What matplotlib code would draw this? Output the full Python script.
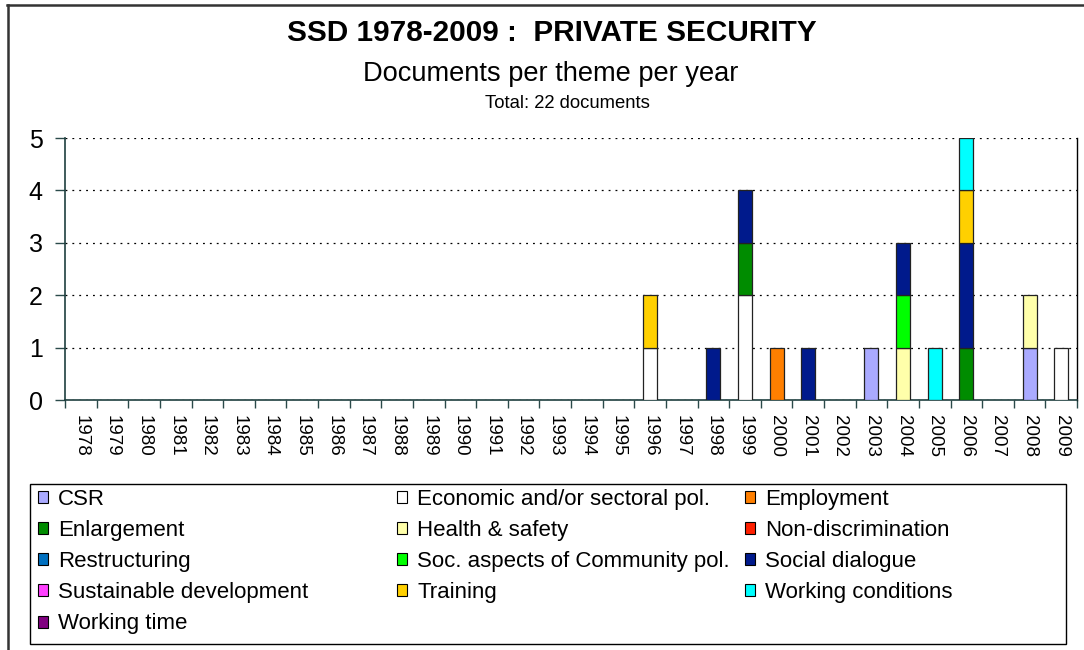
import numpy as np
import matplotlib
matplotlib.use("Agg")
import matplotlib.pyplot as plt
from matplotlib.patches import Patch, Rectangle
from matplotlib.lines import Line2D

plt.rcParams["font.family"] = ["Liberation Sans", "DejaVu Sans"]

years = [str(y) for y in range(1978, 2010)]

themes = ["CSR", "Economic and/or sectoral pol.", "Employment", "Enlargement",
          "Health & safety", "Non-discrimination", "Restructuring",
          "Soc. aspects of Community pol.", "Social dialogue",
          "Sustainable development", "Training", "Working conditions", "Working time"]
colors = ["#AAAAFF", "#FFFFFF", "#FF7F00", "#008C00", "#FFFFAA", "#FF2000", "#0070C0",
          "#00FF00", "#001A8C", "#FF40FF", "#FFD000", "#00FFFF", "#800080"]

# documents per theme, keyed by year (all other years are 0)
csr = {"2003": 1, "2008": 1}
economic = {"1996": 1, "1999": 2, "2009": 1}
employment = {"2000": 1}
enlargement = {"1999": 1, "2006": 1}
health = {"2004": 1, "2008": 1}
nondiscrimination = {}
restructuring = {}
soc_aspects = {"2004": 1}
social_dialogue = {"1998": 1, "1999": 1, "2001": 1, "2004": 1, "2006": 2}
sustainable = {}
training = {"1996": 1, "2006": 1}
working_conditions = {"2005": 1, "2006": 1}
working_time = {}

series = [csr, economic, employment, enlargement, health, nondiscrimination,
          restructuring, soc_aspects, social_dialogue, sustainable, training,
          working_conditions, working_time]

W, H = 1084, 650
fig = plt.figure(figsize=(W / 100, H / 100), dpi=100)
ax = fig.add_axes([65 / W, 1 - 400 / H, (1077 - 65) / W, 262 / H])

x = np.arange(len(years))
bottom = np.zeros(len(years))
for name, col, s in zip(themes, colors, series):
    vals = np.array([s.get(y, 0) for y in years], dtype=float)
    m = vals > 0
    if m.any():
        ax.bar(x[m], vals[m], bottom=bottom[m], width=0.44, color=col,
               edgecolor="#222222", linewidth=0.9, zorder=3)
    bottom += vals

ax.set_xlim(-0.5, len(years) - 0.5)
ax.set_ylim(0, 5)
ax.set_yticks(range(6))
ax.yaxis.grid(True, linestyle=(0, (1.5, 4)), color="black", linewidth=0.9, zorder=1)
ax.tick_params(axis="y", direction="out", length=7, width=1, labelsize=18,
               pad=9, color="#2a4a4a")

ax.set_xticks(x)
ax.set_xticklabels(years, rotation=-90, fontsize=13.5)
ax.tick_params(axis="x", which="major", length=0, pad=11)
ax.set_xticks(np.arange(-0.5, len(years)), minor=True)
ax.tick_params(axis="x", which="minor", direction="out", length=6, width=1,
               color="#2a4a4a")

for sp in ["left", "bottom"]:
    ax.spines[sp].set_color("#1f3f3f")
    ax.spines[sp].set_linewidth(1.2)
ax.spines["top"].set_visible(False)
ax.spines["right"].set_color("black")
ax.spines["right"].set_linewidth(1)

# titles
fig.text(552 / W, 1 - 33 / H, "SSD 1978-2009 :  PRIVATE SECURITY", ha="center",
         va="center", fontsize=21.4, fontweight="bold")
fig.text(551 / W, 1 - 74 / H, "Documents per theme per year", ha="center",
         va="center", fontsize=19.6)
fig.text(567 / W, 1 - 104 / H, "Total: 22 documents", ha="center",
         va="center", fontsize=13.3)

# outer border (top and left)
fig.add_artist(Line2D([7 / W, 1], [1 - 5 / H, 1 - 5 / H], color="#333333", lw=1.8))
fig.add_artist(Line2D([8 / W, 8 / W], [0, 1 - 5 / H], color="#333333", lw=1.8))

# legend box
fig.add_artist(Rectangle((30 / W, 1 - 644 / H), (1066 - 30) / W, (644 - 484) / H,
                         transform=fig.transFigure, fill=False, edgecolor="black",
                         lw=1))

handles = [Patch(facecolor=c, edgecolor="black", linewidth=0.8) for c in colors]
col_x = [38, 397, 745]
for k in range(3):
    fig.legend(handles[k::3], themes[k::3], loc="upper left",
               bbox_to_anchor=(col_x[k] / W, 1 - 489 / H), frameon=False,
               fontsize=16, handlelength=0.45, handleheight=0.45,
               handletextpad=0.45, labelspacing=0.455, borderpad=0,
               borderaxespad=0)

fig.savefig("out.png", dpi=100)
